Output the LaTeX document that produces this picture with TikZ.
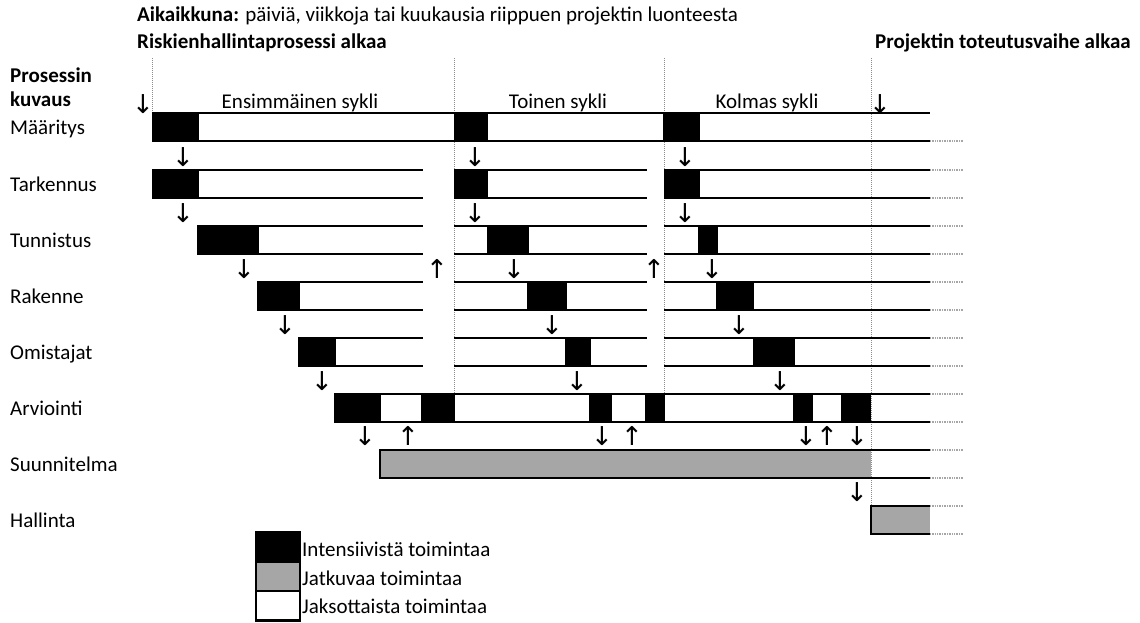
\documentclass[tikz,border=0pt]{standalone}
\usepackage{fontspec}
\setmainfont{Carlito}
\newfontfamily\arrowfont{DejaVu Sans}
\definecolor{midgray}{HTML}{A6A6A6}
\definecolor{dotgray}{HTML}{8C8C8C}
\begin{document}
\begin{tikzpicture}[x=1pt,y=-1pt,
  lab/.style={font=\fontsize{21}{24}\selectfont, inner sep=0pt, anchor=base west},
  labc/.style={font=\fontsize{21}{24}\selectfont, inner sep=0pt, anchor=base},
  ar/.style={font=\arrowfont\fontsize{26}{28}\selectfont, inner sep=0pt},
  hl/.style={line width=2pt},
  vdot/.style={draw=dotgray, line width=0.9pt, dash pattern=on 1pt off 1pt},
  ext/.style={draw=midgray, line width=2pt, dash pattern=on 1pt off 0.7pt},
  blk/.style={fill=black},
  gbox/.style={fill=midgray}]
\useasboundingbox (0,0) rectangle (1140,623);

% header texts
\node[lab] (title) at (137,21.5) {\textbf{Aikaikkuna:} päiviä, viikkoja tai kuukausia riippuen projektin luonteesta};
\node[lab] (start) at (137,49) {\textbf{Riskienhallintaprosessi alkaa}};
\node[lab] (impl) at (875,49) {\textbf{Projektin toteutusvaihe alkaa}};
\node[lab] (proc1) at (10,83) {\textbf{Prosessin}};
\node[lab] (proc2) at (10,107) {\textbf{kuvaus}};
\node[labc] (c1) at (300,109) {Ensimmäinen sykli};
\node[labc] (c2) at (558,109) {Toinen sykli};
\node[labc] (c3) at (767,109) {Kolmas sykli};

% row labels
\node[lab] (r0) at (10,135) {Määritys};
\node[lab] (r1) at (10,191) {Tarkennus};
\node[lab] (r2) at (10,247) {Tunnistus};
\node[lab] (r3) at (10,303) {Rakenne};
\node[lab] (r4) at (10,359) {Omistajat};
\node[lab] (r5) at (10,415) {Arviointi};
\node[lab] (r6) at (10,471) {Suunnitelma};
\node[lab] (r7) at (10,527) {Hallinta};

% dotted phase lines
\draw[vdot] (152,58) -- (152,113.5);
\draw[vdot] (454,58) -- (454,393.5);
\draw[vdot] (664,58) -- (664,393.5);
\draw[vdot] (871,58) -- (871,505.5);

% intensive (black) blocks
\fill[blk] (152,113.5) rectangle (199,141.5);
\fill[blk] (454,113.5) rectangle (488,141.5);
\fill[blk] (663,113.5) rectangle (700,141.5);
\fill[blk] (152,169.5) rectangle (199,197.5);
\fill[blk] (454,169.5) rectangle (488,197.5);
\fill[blk] (664,169.5) rectangle (700,197.5);
\fill[blk] (197,225.5) rectangle (259,253.5);
\fill[blk] (487,225.5) rectangle (529,253.5);
\fill[blk] (698,225.5) rectangle (718,253.5);
\fill[blk] (257,281.5) rectangle (300,309.5);
\fill[blk] (527,281.5) rectangle (567,309.5);
\fill[blk] (716,281.5) rectangle (754,309.5);
\fill[blk] (298,337.5) rectangle (336,365.5);
\fill[blk] (565,337.5) rectangle (591,365.5);
\fill[blk] (753,337.5) rectangle (795,365.5);
\fill[blk] (334,393.5) rectangle (381,421.5);
\fill[blk] (421,393.5) rectangle (455,421.5);
\fill[blk] (589,393.5) rectangle (612,421.5);
\fill[blk] (645,393.5) rectangle (665,421.5);
\fill[blk] (793,393.5) rectangle (813,421.5);
\fill[blk] (841,393.5) rectangle (871,421.5);

% continuous (gray) blocks
\fill[gbox] (380,449.5) rectangle (871,477.5);
\fill[gbox] (871,505.5) rectangle (930,533.5);

% row lines
\draw[hl] (152,113.5) -- (930,113.5);
\draw[hl] (152,141.5) -- (930,141.5);
\foreach \ya/\yb/\xs in {169.5/197.5/152, 225.5/253.5/197, 281.5/309.5/257, 337.5/365.5/298}{
  \draw[hl] (\xs,\ya) -- (423,\ya);
  \draw[hl] (\xs,\yb) -- (423,\yb);
  \draw[hl] (454,\ya) -- (647,\ya);
  \draw[hl] (454,\yb) -- (647,\yb);
  \draw[hl] (664,\ya) -- (930,\ya);
  \draw[hl] (664,\yb) -- (930,\yb);
}
\draw[hl] (334,393.5) -- (930,393.5);
\draw[hl] (334,421.5) -- (930,421.5);
\draw[hl] (930,449.5) -- (380,449.5) -- (380,477.5) -- (930,477.5);
\draw[hl] (930,505.5) -- (871,505.5) -- (871,533.5) -- (930,533.5);

% dotted continuation
\foreach \y in {141.5,169.5,197.5,225.5,253.5,281.5,309.5,337.5,365.5,393.5,421.5,449.5,477.5,505.5,533.5}{
  \draw[ext] (930,\y) -- (963,\y);
}

% arrows
\node[ar] (a0) at (143,104) {↓};
\node[ar] (a1) at (880,104) {↓};
\node[ar] (g1a) at (183,157) {↓};
\node[ar] (g1b) at (475,157) {↓};
\node[ar] (g1c) at (685,157) {↓};
\node[ar] (g2a) at (183,213) {↓};
\node[ar] (g2b) at (475,213) {↓};
\node[ar] (g2c) at (685,213) {↓};
\node[ar] (g3a) at (244,269) {↓};
\node[ar] (g3u) at (437,269) {↑};
\node[ar] (g3b) at (514,269) {↓};
\node[ar] (g3v) at (654,269) {↑};
\node[ar] (g3c) at (712,269) {↓};
\node[ar] (g4a) at (285,325) {↓};
\node[ar] (g4b) at (552,325) {↓};
\node[ar] (g4c) at (739,325) {↓};
\node[ar] (g5a) at (322,381) {↓};
\node[ar] (g5b) at (577,381) {↓};
\node[ar] (g5c) at (780,381) {↓};
\node[ar] (g6a) at (365,436) {↓};
\node[ar] (g6u) at (408,436) {↑};
\node[ar] (g6b) at (602,436) {↓};
\node[ar] (g6v) at (632,436) {↑};
\node[ar] (g6c) at (806,436) {↓};
\node[ar] (g6w) at (827,436) {↑};
\node[ar] (g6d) at (857,436) {↓};
\node[ar] (g7a) at (857,492) {↓};

% legend
\fill[black] (256,532) rectangle (300,561.5);
\fill[midgray] (256,561.5) rectangle (300,591);
\draw[line width=2.5pt] (256,532) rectangle (300,620.5);
\draw[line width=2.5pt] (256,561.5) -- (300,561.5);
\draw[line width=2.5pt] (256,591) -- (300,591);
\node[lab] (k1) at (302,556) {Intensiivistä toimintaa};
\node[lab] (k2) at (302,585) {Jatkuvaa toimintaa};
\node[lab] (k3) at (302,613.5) {Jaksottaista toimintaa};
\end{tikzpicture}
\end{document}
